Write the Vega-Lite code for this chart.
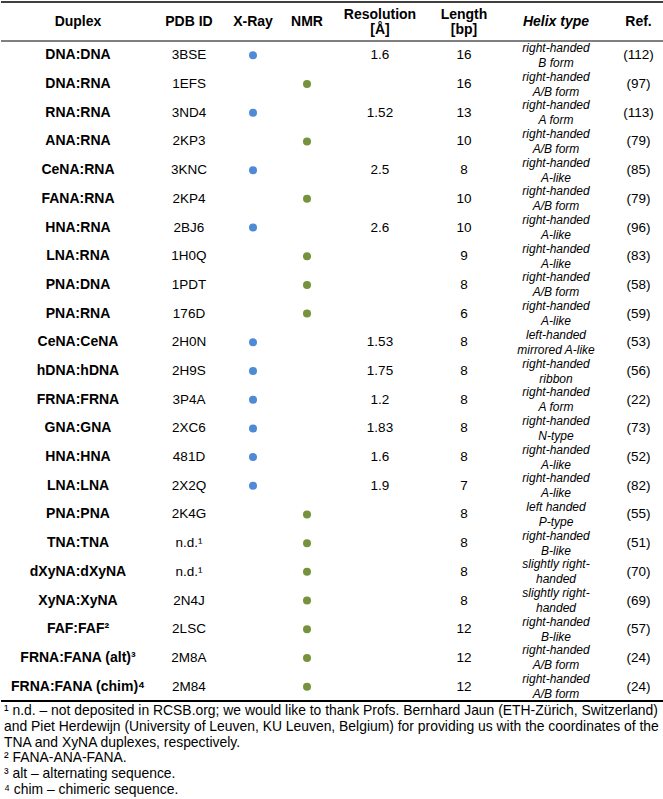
{
  "$schema": "https://vega.github.io/schema/vega-lite/v6.json",
  "padding": {"top": 1, "left": 0, "right": 0, "bottom": 0},
  "background": "white",
  "config": {
    "view": {"stroke": null},
    "text": {"font": "Liberation Sans", "fontSize": 13.5, "color": "#000000"},
    "rule": {"color": "#000000"},
    "concat": {"spacing": 0}
  },
  "data": {"values": [
    {"Duplex": "DNA:DNA", "pdb": "3BSE", "method": "X-Ray", "res": 1.6, "len": 16, "helix": "right-handed\nB form", "ref": "(112)"},
    {"Duplex": "DNA:RNA", "pdb": "1EFS", "method": "NMR", "res": null, "len": 16, "helix": "right-handed\nA/B form", "ref": "(97)"},
    {"Duplex": "RNA:RNA", "pdb": "3ND4", "method": "X-Ray", "res": 1.52, "len": 13, "helix": "right-handed\nA form", "ref": "(113)"},
    {"Duplex": "ANA:RNA", "pdb": "2KP3", "method": "NMR", "res": null, "len": 10, "helix": "right-handed\nA/B form", "ref": "(79)"},
    {"Duplex": "CeNA:RNA", "pdb": "3KNC", "method": "X-Ray", "res": 2.5, "len": 8, "helix": "right-handed\nA-like", "ref": "(85)"},
    {"Duplex": "FANA:RNA", "pdb": "2KP4", "method": "NMR", "res": null, "len": 10, "helix": "right-handed\nA/B form", "ref": "(79)"},
    {"Duplex": "HNA:RNA", "pdb": "2BJ6", "method": "X-Ray", "res": 2.6, "len": 10, "helix": "right-handed\nA-like", "ref": "(96)"},
    {"Duplex": "LNA:RNA", "pdb": "1H0Q", "method": "NMR", "res": null, "len": 9, "helix": "right-handed\nA-like", "ref": "(83)"},
    {"Duplex": "PNA:DNA", "pdb": "1PDT", "method": "NMR", "res": null, "len": 8, "helix": "right-handed\nA/B form", "ref": "(58)"},
    {"Duplex": "PNA:RNA", "pdb": "176D", "method": "NMR", "res": null, "len": 6, "helix": "right-handed\nA-like", "ref": "(59)"},
    {"Duplex": "CeNA:CeNA", "pdb": "2H0N", "method": "X-Ray", "res": 1.53, "len": 8, "helix": "left-handed\nmirrored A-like", "ref": "(53)"},
    {"Duplex": "hDNA:hDNA", "pdb": "2H9S", "method": "X-Ray", "res": 1.75, "len": 8, "helix": "right-handed\nribbon", "ref": "(56)"},
    {"Duplex": "FRNA:FRNA", "pdb": "3P4A", "method": "X-Ray", "res": 1.2, "len": 8, "helix": "right-handed\nA form", "ref": "(22)"},
    {"Duplex": "GNA:GNA", "pdb": "2XC6", "method": "X-Ray", "res": 1.83, "len": 8, "helix": "right-handed\nN-type", "ref": "(73)"},
    {"Duplex": "HNA:HNA", "pdb": "481D", "method": "X-Ray", "res": 1.6, "len": 8, "helix": "right-handed\nA-like", "ref": "(52)"},
    {"Duplex": "LNA:LNA", "pdb": "2X2Q", "method": "X-Ray", "res": 1.9, "len": 7, "helix": "right-handed\nA-like", "ref": "(82)"},
    {"Duplex": "PNA:PNA", "pdb": "2K4G", "method": "NMR", "res": null, "len": 8, "helix": "left handed\nP-type", "ref": "(55)"},
    {"Duplex": "TNA:TNA", "pdb": "n.d.¹", "method": "NMR", "res": null, "len": 8, "helix": "right-handed\nB-like", "ref": "(51)"},
    {"Duplex": "dXyNA:dXyNA", "pdb": "n.d.¹", "method": "NMR", "res": null, "len": 8, "helix": "slightly right-\nhanded", "ref": "(70)"},
    {"Duplex": "XyNA:XyNA", "pdb": "2N4J", "method": "NMR", "res": null, "len": 8, "helix": "slightly right-\nhanded", "ref": "(69)"},
    {"Duplex": "FAF:FAF²", "pdb": "2LSC", "method": "NMR", "res": null, "len": 12, "helix": "right-handed\nB-like", "ref": "(57)"},
    {"Duplex": "FRNA:FANA (alt)³", "pdb": "2M8A", "method": "NMR", "res": null, "len": 12, "helix": "right-handed\nA/B form", "ref": "(24)"},
    {"Duplex": "FRNA:FANA (chim)⁴", "pdb": "2M84", "method": "NMR", "res": null, "len": 12, "helix": "right-handed\nA/B form", "ref": "(24)"}
  ]},
  "columns": 8,
  "align": "each",
  "bounds": "flush",
  "spacing": 0,
  "concat": [
    {"width": 154, "height": 39, "data": {"values": [{"h": "Duplex"}]}, "layer": [
      {"mark": {"type": "text", "fontWeight": "bold", "fontSize": 14}, "encoding": {"text": {"field": "h"}}},
      {"mark": {"type": "rule", "strokeWidth": 1.5}, "encoding": {"y": {"datum": 1, "type": "quantitative", "scale": {"domain": [0, 1]}, "axis": null}}},
      {"mark": {"type": "rule", "strokeWidth": 1}, "encoding": {"y": {"datum": 0, "type": "quantitative", "scale": {"domain": [0, 1]}, "axis": null}}}
    ]},
    {"width": 68, "height": 39, "data": {"values": [{"h": "PDB ID"}]}, "layer": [
      {"mark": {"type": "text", "fontWeight": "bold", "fontSize": 14}, "encoding": {"text": {"field": "h"}}},
      {"mark": {"type": "rule", "strokeWidth": 1.5}, "encoding": {"y": {"datum": 1, "type": "quantitative", "scale": {"domain": [0, 1]}, "axis": null}}},
      {"mark": {"type": "rule", "strokeWidth": 1}, "encoding": {"y": {"datum": 0, "type": "quantitative", "scale": {"domain": [0, 1]}, "axis": null}}}
    ]},
    {"width": 60, "height": 39, "data": {"values": [{"h": "X-Ray"}]}, "layer": [
      {"mark": {"type": "text", "fontWeight": "bold", "fontSize": 14}, "encoding": {"text": {"field": "h"}}},
      {"mark": {"type": "rule", "strokeWidth": 1.5}, "encoding": {"y": {"datum": 1, "type": "quantitative", "scale": {"domain": [0, 1]}, "axis": null}}},
      {"mark": {"type": "rule", "strokeWidth": 1}, "encoding": {"y": {"datum": 0, "type": "quantitative", "scale": {"domain": [0, 1]}, "axis": null}}}
    ]},
    {"width": 48, "height": 39, "data": {"values": [{"h": "NMR"}]}, "layer": [
      {"mark": {"type": "text", "fontWeight": "bold", "fontSize": 14}, "encoding": {"text": {"field": "h"}}},
      {"mark": {"type": "rule", "strokeWidth": 1.5}, "encoding": {"y": {"datum": 1, "type": "quantitative", "scale": {"domain": [0, 1]}, "axis": null}}},
      {"mark": {"type": "rule", "strokeWidth": 1}, "encoding": {"y": {"datum": 0, "type": "quantitative", "scale": {"domain": [0, 1]}, "axis": null}}}
    ]},
    {"width": 98, "height": 39, "data": {"values": [{"h": "Resolution\n[Å]"}]}, "layer": [
      {"mark": {"type": "text", "fontWeight": "bold", "fontSize": 14, "lineBreak": "\n", "lineHeight": 15, "dy": -7}, "encoding": {"text": {"field": "h"}}},
      {"mark": {"type": "rule", "strokeWidth": 1.5}, "encoding": {"y": {"datum": 1, "type": "quantitative", "scale": {"domain": [0, 1]}, "axis": null}}},
      {"mark": {"type": "rule", "strokeWidth": 1}, "encoding": {"y": {"datum": 0, "type": "quantitative", "scale": {"domain": [0, 1]}, "axis": null}}}
    ]},
    {"width": 70, "height": 39, "data": {"values": [{"h": "Length\n[bp]"}]}, "layer": [
      {"mark": {"type": "text", "fontWeight": "bold", "fontSize": 14, "lineBreak": "\n", "lineHeight": 15, "dy": -7}, "encoding": {"text": {"field": "h"}}},
      {"mark": {"type": "rule", "strokeWidth": 1.5}, "encoding": {"y": {"datum": 1, "type": "quantitative", "scale": {"domain": [0, 1]}, "axis": null}}},
      {"mark": {"type": "rule", "strokeWidth": 1}, "encoding": {"y": {"datum": 0, "type": "quantitative", "scale": {"domain": [0, 1]}, "axis": null}}}
    ]},
    {"width": 114, "height": 39, "data": {"values": [{"h": "Helix type"}]}, "layer": [
      {"mark": {"type": "text", "fontWeight": "bold", "fontStyle": "italic", "fontSize": 14}, "encoding": {"text": {"field": "h"}}},
      {"mark": {"type": "rule", "strokeWidth": 1.5}, "encoding": {"y": {"datum": 1, "type": "quantitative", "scale": {"domain": [0, 1]}, "axis": null}}},
      {"mark": {"type": "rule", "strokeWidth": 1}, "encoding": {"y": {"datum": 0, "type": "quantitative", "scale": {"domain": [0, 1]}, "axis": null}}}
    ]},
    {"width": 51, "height": 39, "data": {"values": [{"h": "Ref."}]}, "layer": [
      {"mark": {"type": "text", "fontWeight": "bold", "fontSize": 14}, "encoding": {"text": {"field": "h"}}},
      {"mark": {"type": "rule", "strokeWidth": 1.5}, "encoding": {"y": {"datum": 1, "type": "quantitative", "scale": {"domain": [0, 1]}, "axis": null}}},
      {"mark": {"type": "rule", "strokeWidth": 1}, "encoding": {"y": {"datum": 0, "type": "quantitative", "scale": {"domain": [0, 1]}, "axis": null}}}
    ]},
    {"width": 154, "height": 660, "resolve": {"scale": {"y": "independent"}}, "layer": [
      {"mark": {"type": "text", "fontWeight": "bold", "fontSize": 14}, "encoding": {"y": {"field": "Duplex", "type": "nominal", "sort": null, "axis": null, "scale": {"type": "point", "padding": 0.5}}, "text": {"field": "Duplex"}}},
      {"data": {"values": [{}]}, "mark": {"type": "rule", "strokeWidth": 2}, "encoding": {"y": {"datum": 0, "type": "quantitative", "scale": {"domain": [0, 1]}, "axis": null}}}
    ]},
    {"width": 68, "height": 660, "resolve": {"scale": {"y": "independent"}}, "layer": [
      {"mark": {"type": "text"}, "encoding": {"y": {"field": "Duplex", "type": "nominal", "sort": null, "axis": null, "scale": {"type": "point", "padding": 0.5}}, "text": {"field": "pdb"}}},
      {"data": {"values": [{}]}, "mark": {"type": "rule", "strokeWidth": 2}, "encoding": {"y": {"datum": 0, "type": "quantitative", "scale": {"domain": [0, 1]}, "axis": null}}}
    ]},
    {"width": 60, "height": 660, "resolve": {"scale": {"y": "independent"}}, "layer": [
      {"mark": {"type": "point", "filled": true, "size": 64, "color": "#4f8ad6"}, "encoding": {"y": {"field": "Duplex", "type": "nominal", "sort": null, "axis": null, "scale": {"type": "point", "padding": 0.5}}, "opacity": {"condition": {"test": "datum.method === 'X-Ray'", "value": 1}, "value": 0}}},
      {"data": {"values": [{}]}, "mark": {"type": "rule", "strokeWidth": 2}, "encoding": {"y": {"datum": 0, "type": "quantitative", "scale": {"domain": [0, 1]}, "axis": null}}}
    ]},
    {"width": 48, "height": 660, "resolve": {"scale": {"y": "independent"}}, "layer": [
      {"mark": {"type": "point", "filled": true, "size": 64, "color": "#76923c"}, "encoding": {"y": {"field": "Duplex", "type": "nominal", "sort": null, "axis": null, "scale": {"type": "point", "padding": 0.5}}, "opacity": {"condition": {"test": "datum.method === 'NMR'", "value": 1}, "value": 0}}},
      {"data": {"values": [{}]}, "mark": {"type": "rule", "strokeWidth": 2}, "encoding": {"y": {"datum": 0, "type": "quantitative", "scale": {"domain": [0, 1]}, "axis": null}}}
    ]},
    {"width": 98, "height": 660, "resolve": {"scale": {"y": "independent"}}, "layer": [
      {"mark": {"type": "text"}, "encoding": {"y": {"field": "Duplex", "type": "nominal", "sort": null, "axis": null, "scale": {"type": "point", "padding": 0.5}}, "text": {"condition": {"test": "isValid(datum.res)", "field": "res", "type": "quantitative"}, "value": ""}}},
      {"data": {"values": [{}]}, "mark": {"type": "rule", "strokeWidth": 2}, "encoding": {"y": {"datum": 0, "type": "quantitative", "scale": {"domain": [0, 1]}, "axis": null}}}
    ]},
    {"width": 70, "height": 660, "resolve": {"scale": {"y": "independent"}}, "layer": [
      {"mark": {"type": "text"}, "encoding": {"y": {"field": "Duplex", "type": "nominal", "sort": null, "axis": null, "scale": {"type": "point", "padding": 0.5}}, "text": {"field": "len", "type": "quantitative"}}},
      {"data": {"values": [{}]}, "mark": {"type": "rule", "strokeWidth": 2}, "encoding": {"y": {"datum": 0, "type": "quantitative", "scale": {"domain": [0, 1]}, "axis": null}}}
    ]},
    {"width": 114, "height": 660, "resolve": {"scale": {"y": "independent"}}, "layer": [
      {"mark": {"type": "text", "fontStyle": "italic", "fontSize": 12, "lineBreak": "\n", "lineHeight": 15, "dy": -7.5}, "encoding": {"y": {"field": "Duplex", "type": "nominal", "sort": null, "axis": null, "scale": {"type": "point", "padding": 0.5}}, "text": {"field": "helix"}}},
      {"data": {"values": [{}]}, "mark": {"type": "rule", "strokeWidth": 2}, "encoding": {"y": {"datum": 0, "type": "quantitative", "scale": {"domain": [0, 1]}, "axis": null}}}
    ]},
    {"width": 51, "height": 660, "resolve": {"scale": {"y": "independent"}}, "layer": [
      {"mark": {"type": "text"}, "encoding": {"y": {"field": "Duplex", "type": "nominal", "sort": null, "axis": null, "scale": {"type": "point", "padding": 0.5}}, "text": {"field": "ref"}}},
      {"data": {"values": [{}]}, "mark": {"type": "rule", "strokeWidth": 2}, "encoding": {"y": {"datum": 0, "type": "quantitative", "scale": {"domain": [0, 1]}, "axis": null}}}
    ]},
    {
      "width": 154,
      "height": 99,
      "data": {"values": [
        {"line": "¹ n.d. – not deposited in RCSB.org; we would like to thank Profs. Bernhard Jaun (ETH-Zürich, Switzerland)"},
        {"line": "and Piet Herdewijn (University of Leuven, KU Leuven, Belgium) for providing us with the coordinates of the"},
        {"line": "TNA and XyNA duplexes, respectively."},
        {"line": "² FANA-ANA-FANA."},
        {"line": "³  alt – alternating sequence."},
        {"line": "⁴  chim – chimeric sequence."}
      ]},
      "mark": {"type": "text", "align": "left", "dx": 3, "fontSize": 13.9},
      "encoding": {
        "x": {"datum": 0, "type": "quantitative", "scale": {"domain": [0, 1]}, "axis": null},
        "y": {"field": "line", "type": "nominal", "sort": null, "axis": null, "scale": {"type": "point", "padding": 0.65}},
        "text": {"field": "line"}
      }
    }
  ]
}
